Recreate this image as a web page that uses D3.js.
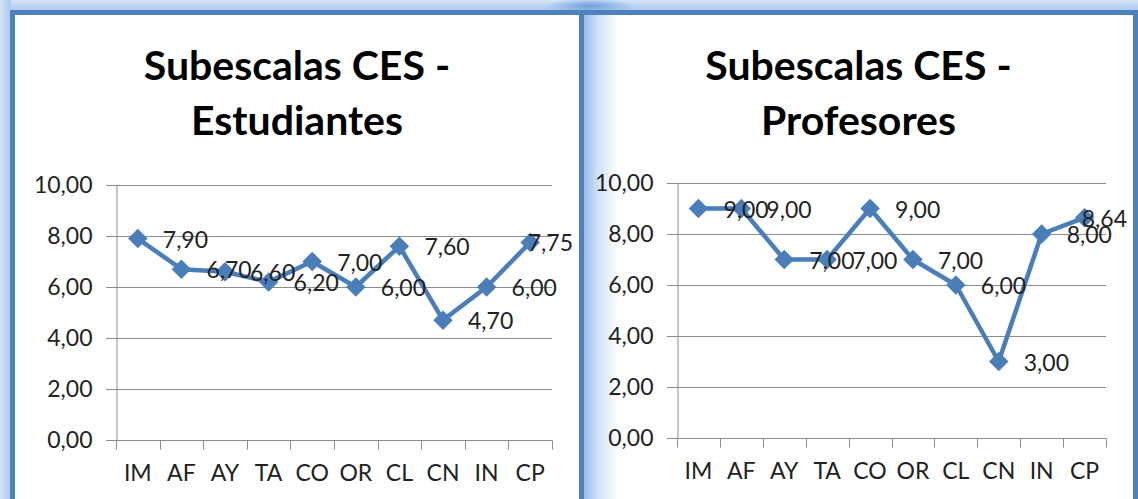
<!DOCTYPE html>
<html>
<head>
<meta charset="utf-8">
<script src="https://cdn.jsdelivr.net/npm/d3@7"></script>
<style>
  html, body { margin: 0; padding: 0; background: #ffffff; }
  svg { display: block; }
</style>
</head>
<body>
<script>
// datos de las dos graficas
const categorias = ["IM", "AF", "AY", "TA", "CO", "OR", "CL", "CN", "IN", "CP"];
const estudiantes = [7.90, 6.70, 6.60, 6.20, 7.00, 6.00, 7.60, 4.70, 6.00, 7.75];
const profesores = [9.00, 9.00, 7.00, 7.00, 9.00, 7.00, 6.00, 3.00, 8.00, 8.64];
const yTicks = [0, 2, 4, 6, 8, 10];
const tituloEst = ["Subescalas CES -", "Estudiantes"];
const tituloProf = ["Subescalas CES -", "Profesores"];

const W = 1138, H = 499;
const azul = "#4f81bd";
const fmt = d3.formatLocale({decimal: ",", thousands: ".", grouping: [3], currency: ["", ""]}).format(".2f");

const svg = d3.select("body").append("svg").attr("width", W).attr("height", H);
const defs = svg.append("defs");

// brillo exterior (arriba e izquierda)
const gTop = defs.append("linearGradient").attr("id", "gTop").attr("x1", 0).attr("y1", 0).attr("x2", 0).attr("y2", 1);
gTop.append("stop").attr("offset", 0).attr("stop-color", "#d6e5f8");
gTop.append("stop").attr("offset", 1).attr("stop-color", "#a9c7ee");
const gLeft = defs.append("linearGradient").attr("id", "gLeft").attr("x1", 0).attr("y1", 0).attr("x2", 1).attr("y2", 0);
gLeft.append("stop").attr("offset", 0).attr("stop-color", "#d6e5f8");
gLeft.append("stop").attr("offset", 1).attr("stop-color", "#a9c7ee");
const gInner = defs.append("linearGradient").attr("id", "gInner").attr("x1", 0).attr("y1", 0).attr("x2", 1).attr("y2", 0);
gInner.append("stop").attr("offset", 0).attr("stop-color", "#98bcea");
gInner.append("stop").attr("offset", 0.4).attr("stop-color", "#cfe0f6");
gInner.append("stop").attr("offset", 1).attr("stop-color", "#ffffff");
const gJoin = defs.append("radialGradient").attr("id", "gJoin");
gJoin.append("stop").attr("offset", 0).attr("stop-color", "#6f9fdc");
gJoin.append("stop").attr("offset", 1).attr("stop-color", "#6f9fdc").attr("stop-opacity", 0);

svg.append("rect").attr("x", 0).attr("y", 0).attr("width", W).attr("height", 11).attr("fill", "url(#gTop)");
svg.append("rect").attr("x", 0).attr("y", 0).attr("width", 11).attr("height", H).attr("fill", "url(#gLeft)");
svg.append("ellipse").attr("cx", 590).attr("cy", 6).attr("rx", 45).attr("ry", 8).attr("fill", "url(#gJoin)");

// paneles
const paneles = [
  {x0: 10, x1: 584, titulo: tituloEst, valores: estudiantes, xr: [116, 552], yr: [440, 185], glow: false},
  {x0: 579, x1: 1138, titulo: tituloProf, valores: profesores, xr: [677, 1106], yr: [438, 183], glow: true}
];

paneles.forEach(function(p) {
  const g = svg.append("g");
  g.append("rect")
    .attr("x", p.x0 + 2.5).attr("y", 12.5)
    .attr("width", p.x1 - p.x0 - 5).attr("height", H + 20)
    .attr("fill", "#ffffff")
    .attr("stroke", azul).attr("stroke-width", 5);
  if (p.glow) {
    g.append("rect").attr("x", p.x0 + 5).attr("y", 15)
      .attr("width", 34).attr("height", H).attr("fill", "url(#gInner)");
  }
  drawChart(g, p);
});

// la linea izquierda del segundo panel tapa la del primero, se redibuja el borde compartido
svg.append("line").attr("x1", 581.5).attr("x2", 581.5).attr("y1", 10).attr("y2", H)
  .attr("stroke", azul).attr("stroke-width", 5);

function drawChart(g, p) {
  const cx = (p.x0 + p.x1) / 2;

  g.append("text")
    .attr("x", cx).attr("text-anchor", "middle")
    .attr("font-family", "Lato, sans-serif").attr("font-weight", "bold")
    .attr("font-size", 41).attr("fill", "#000")
    .selectAll("tspan").data(p.titulo).enter().append("tspan")
      .attr("x", cx)
      .attr("y", function(d, i) { return 80 + i * 55; })
      .text(function(d) { return d; });

  const x = d3.scaleBand().domain(categorias).range(p.xr);
  const y = d3.scaleLinear().domain([0, 10]).range(p.yr);

  // rejilla
  g.append("g")
    .selectAll("line").data(yTicks).enter().append("line")
      .attr("x1", p.xr[0] - 10).attr("x2", p.xr[1])
      .attr("y1", function(d) { return Math.round(y(d)) + 0.5; })
      .attr("y2", function(d) { return Math.round(y(d)) + 0.5; })
      .attr("stroke", "#8c8c8c").attr("stroke-width", 1);

  // eje y
  const yAxis = d3.axisLeft(y).tickValues(yTicks).tickFormat(fmt).tickSize(0).tickPadding(24);
  const ya = g.append("g").attr("transform", `translate(${p.xr[0] + 0.5},0)`).call(yAxis);
  ya.select(".domain").attr("stroke", "#8c8c8c");
  ya.selectAll("text").attr("font-family", "Lato, sans-serif").attr("font-size", 23).attr("fill", "#222");

  // eje x
  const base = Math.round(p.yr[0]) + 0.5;
  g.append("g")
    .selectAll("line").data(d3.range(categorias.length + 1)).enter().append("line")
      .attr("x1", function(i) { return Math.round(p.xr[0] + i * x.step()) + 0.5; })
      .attr("x2", function(i) { return Math.round(p.xr[0] + i * x.step()) + 0.5; })
      .attr("y1", base).attr("y2", base + 9)
      .attr("stroke", "#8c8c8c");
  g.append("g")
    .selectAll("text").data(categorias).enter().append("text")
      .attr("x", function(d) { return x(d) + x.bandwidth() / 2; })
      .attr("y", p.yr[0] + 41)
      .attr("text-anchor", "middle")
      .attr("font-family", "Lato, sans-serif").attr("font-size", 23).attr("fill", "#222")
      .text(function(d) { return d; });

  const pts = p.valores.map(function(v, i) {
    return {c: categorias[i], v: v, px: x(categorias[i]) + x.bandwidth() / 2, py: y(v)};
  });

  const line = d3.line().x(function(d) { return d.px; }).y(function(d) { return d.py; });
  g.append("path")
    .attr("d", line(pts))
    .attr("fill", "none")
    .attr("stroke", "#4a7ebb").attr("stroke-width", 4.5)
    .attr("stroke-linejoin", "round");

  g.append("g")
    .selectAll("path").data(pts).enter().append("path")
      .attr("d", d3.symbol(d3.symbolSquare, 190))
      .attr("transform", function(d) { return `translate(${d.px},${d.py}) rotate(45)`; })
      .attr("fill", "#4a7ebb");

  // etiquetas de datos a la derecha de cada punto
  const limite = p.x1 - 11;
  g.append("g")
    .selectAll("text").data(pts).enter().append("text")
      .attr("x", function(d) { return d.px + 25; })
      .attr("y", function(d) { return d.py + 9; })
      .attr("font-family", "Lato, sans-serif").attr("font-size", 23).attr("fill", "#222")
      .text(function(d) { return fmt(d.v); })
      .each(function(d) {
        const w = this.getComputedTextLength();
        if (d.px + 25 + w > limite) d3.select(this).attr("x", limite - w);
      });
}
</script>
</body>
</html>
